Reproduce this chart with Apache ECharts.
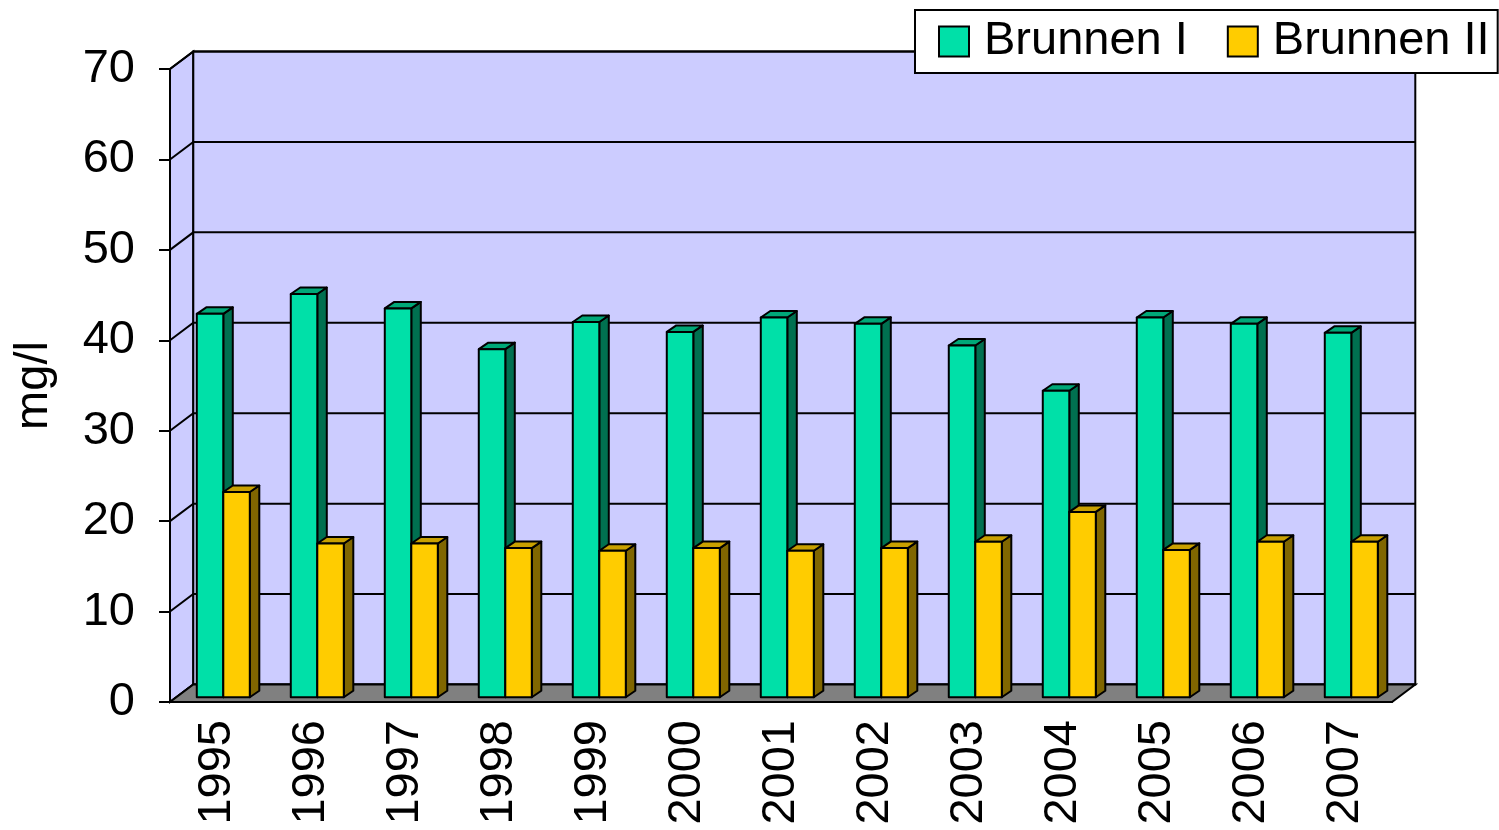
<!DOCTYPE html>
<html>

<head>
    <meta charset="utf-8">
    <title>Brunnen I / II</title>
    <script src="https://cdn.jsdelivr.net/npm/echarts@6/dist/echarts.min.js"></script>
    <style>
        html, body { margin: 0; padding: 0; background: #fff; }
        #main { width: 1499px; height: 830px; }
    </style>
</head>

<body>
    <div id="main"></div>
    <script>
        // data
        var years = ['1995', '1996', '1997', '1998', '1999', '2000', '2001', '2002', '2003', '2004', '2005', '2006', '2007'];
        var brunnen1 = [42.4, 44.6, 43.0, 38.5, 41.5, 40.4, 42.0, 41.3, 38.9, 33.9, 42.0, 41.3, 40.3];
        var brunnen2 = [22.7, 17.0, 17.0, 16.5, 16.2, 16.5, 16.2, 16.5, 17.2, 20.5, 16.3, 17.2, 17.2];
        var yTicks = [0, 10, 20, 30, 40, 50, 60, 70];

        // pseudo 3d depth (front plane -> back wall)
        var DX = 23.3, DY = -17.5;
        var F0 = 0.27;          // bars sit this far into the depth
        var BDX = 9.5, BDY = -6.5; // bar thickness
        var FONT = 'Liberation Sans';

        // back wall, left wall, floor and gridlines
        function wallItem(params, api) {
            var n = years.length;
            var w = api.size([1, 0])[0];
            var x0 = api.coord([0, 0])[0] - w / 2, x1 = x0 + n * w;
            var y0 = api.coord([0, 0])[1], yTop = api.coord([0, 70])[1];
            var kids = [];
            var lineStyle = { stroke: '#000', lineWidth: 2, fill: null };
            // left wall
            kids.push({ type: 'polygon', shape: { points: [[x0, y0], [x0, yTop], [x0 + DX, yTop + DY], [x0 + DX, y0 + DY]] },
                style: { fill: '#CCCCFF', stroke: '#000', lineWidth: 2 } });
            // back wall
            kids.push({ type: 'rect', shape: { x: x0 + DX, y: yTop + DY, width: x1 - x0, height: y0 - yTop },
                style: { fill: '#CCCCFF', stroke: '#000', lineWidth: 2 } });
            yTicks.forEach(function (t) {
                var y = api.coord([0, t])[1];
                kids.push({ type: 'polyline', shape: { points: [[x0, y], [x0 + DX, y + DY], [x1 + DX, y + DY]] }, style: lineStyle });
            });
            // floor
            kids.push({ type: 'polygon', shape: { points: [[x0, y0], [x1, y0], [x1 + DX, y0 + DY], [x0 + DX, y0 + DY]] },
                style: { fill: '#808080', stroke: '#000', lineWidth: 2 } });
            return { type: 'group', children: kids };
        }

        function barItem(side, front, top, right) {
            return function (params, api) {
                var cat = api.value(0), v = api.value(1);
                var base = api.coord([cat, 0]), tp = api.coord([cat, v]);
                var bw = api.size([1, 0])[0] * 0.282;
                var x = base[0] + (side === 0 ? -bw : 0) + DX * F0;
                var yb = base[1] + DY * F0, yt = tp[1] + DY * F0;
                var st = function (c) { return { fill: c, stroke: '#000', lineWidth: 2, lineJoin: 'round' }; };
                return {
                    type: 'group',
                    children: [
                        { type: 'polygon', shape: { points: [[x + bw, yt], [x + bw + BDX, yt + BDY], [x + bw + BDX, yb + BDY], [x + bw, yb]] }, style: st(right) },
                        { type: 'polygon', shape: { points: [[x, yt], [x + bw, yt], [x + bw + BDX, yt + BDY], [x + BDX, yt + BDY]] }, style: st(top) },
                        { type: 'rect', shape: { x: x, y: yt, width: bw, height: yb - yt }, style: st(front) }
                    ]
                };
            };
        }

        var myChart = echarts.init(document.getElementById('main'));
        myChart.setOption({
            animation: false,
            backgroundColor: '#fff',
            grid: { left: 170, right: 107, top: 69, bottom: 128, outerBoundsMode: 'none', containLabel: false },
            legend: {
                data: ['Brunnen I', 'Brunnen II'],
                left: 915, top: 10,
                padding: [8, 8, 8, 23],
                itemWidth: 30, itemHeight: 30, itemGap: 39,
                icon: 'rect',
                backgroundColor: '#fff', borderColor: '#000', borderWidth: 2,
                textStyle: { fontFamily: FONT, fontSize: 47, lineHeight: 47, color: '#000', padding: [0, 0, 0, 10] }
            },
            xAxis: {
                type: 'category',
                data: years,
                boundaryGap: true,
                axisLine: { lineStyle: { color: '#000', width: 2 } },
                axisTick: { length: 12, lineStyle: { color: '#000', width: 2 } },
                axisLabel: { rotate: 90, margin: 18, fontFamily: FONT, fontSize: 47, color: '#000' }
            },
            yAxis: {
                type: 'value', min: 0, max: 70, interval: 10,
                name: 'mg/l', nameLocation: 'middle', nameGap: 112, nameRotate: 90,
                nameTextStyle: { fontFamily: FONT, fontSize: 47, color: '#000' },
                axisLine: { show: true, lineStyle: { color: '#000', width: 2 } },
                axisTick: { show: true, length: 11, lineStyle: { color: '#000', width: 2 } },
                axisLabel: { margin: 35, fontFamily: FONT, fontSize: 47, color: '#000' },
                splitLine: { show: false }
            },
            series: [{
                name: 'walls', type: 'custom', silent: true, z: 1,
                renderItem: wallItem, data: [[0, 0]], encode: { x: 0, y: 1 }
            }, {
                name: 'Brunnen I', type: 'custom', z: 3,
                itemStyle: { color: '#00E0A8', borderColor: '#000', borderWidth: 1.5 },
                renderItem: barItem(0, '#00E0A8', '#00A878', '#007050'),
                data: brunnen1.map(function (v, i) { return [i, v]; }), encode: { x: 0, y: 1 }
            }, {
                name: 'Brunnen II', type: 'custom', z: 4,
                itemStyle: { color: '#FFCC00', borderColor: '#000', borderWidth: 1.5 },
                renderItem: barItem(1, '#FFCC00', '#C9A000', '#806600'),
                data: brunnen2.map(function (v, i) { return [i, v]; }), encode: { x: 0, y: 1 }
            }]
        });
    </script>
</body>

</html>
